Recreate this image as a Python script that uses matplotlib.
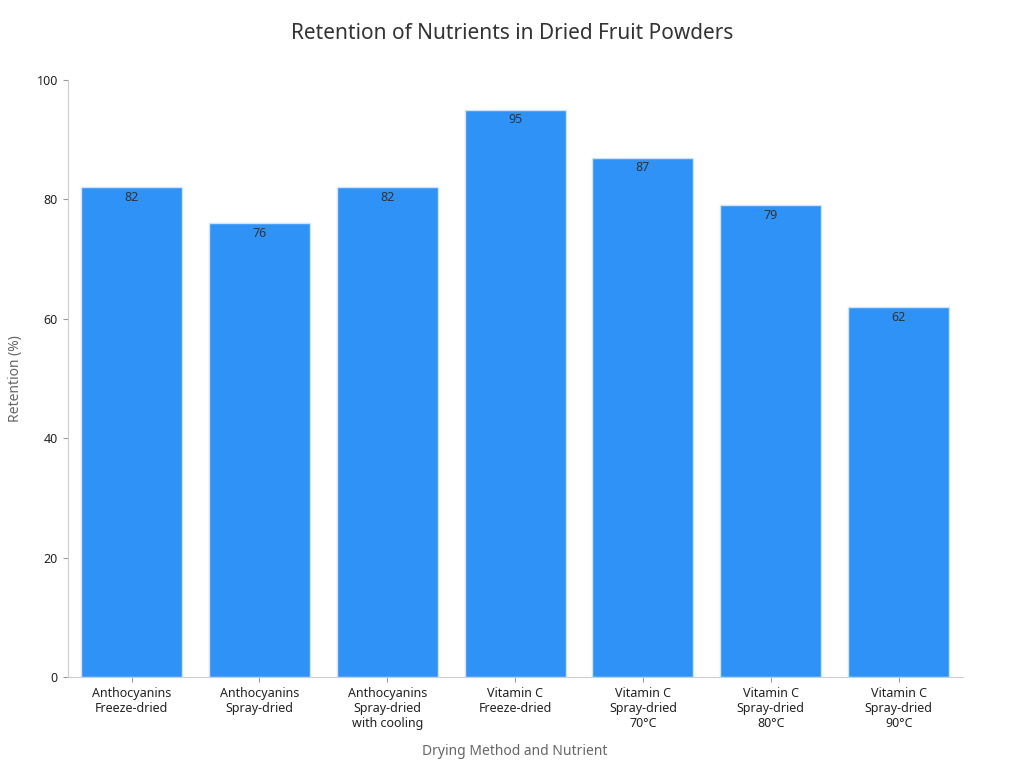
import matplotlib
matplotlib.use("Agg")
import matplotlib.pyplot as plt

plt.rcParams['font.family'] = ['Noto Sans', 'DejaVu Sans']

categories = ["Anthocyanins\nFreeze-dried", "Anthocyanins\nSpray-dried", "Anthocyanins\nSpray-dried\nwith cooling",
              "Vitamin C\nFreeze-dried", "Vitamin C\nSpray-dried\n70°C", "Vitamin C\nSpray-dried\n80°C",
              "Vitamin C\nSpray-dried\n90°C"]
values = [82, 76, 82, 95, 87, 79, 62]
yticks = [0, 20, 40, 60, 80, 100]

fig = plt.figure(figsize=(10.24, 7.68), dpi=100)
ax = fig.add_axes([0.066, 0.118, 0.874, 0.778])
x = range(len(values))
bars = ax.bar(x, values, width=0.79, color='#2f92f7', edgecolor='#d0e4f7', linewidth=1)
for xi, v in zip(x, values):
    ax.text(xi, v - 0.6, str(v), ha='center', va='top', fontsize=9, color='#333333')
ax.set_xlim(-0.5, len(values) - 0.5)
ax.set_ylim(0, 100)
ax.set_yticks(yticks)
ax.set_xticks(list(x))
ax.set_xticklabels(categories, fontsize=9, color='#222222')
ax.tick_params(axis='y', labelsize=9, colors='#222222')
ax.tick_params(color='#999999')
for s in ['top', 'right']:
    ax.spines[s].set_visible(False)
for s in ['left', 'bottom']:
    ax.spines[s].set_color('#cccccc')
ax.set_xlabel("Drying Method and Nutrient", fontsize=10, color='#666666', labelpad=10)
ax.set_ylabel("Retention (%)", fontsize=10, color='#666666', labelpad=10)
fig.suptitle("Retention of Nutrients in Dried Fruit Powders", fontsize=15, color='#333333', y=0.97)
fig.savefig("out.png", dpi=100)
